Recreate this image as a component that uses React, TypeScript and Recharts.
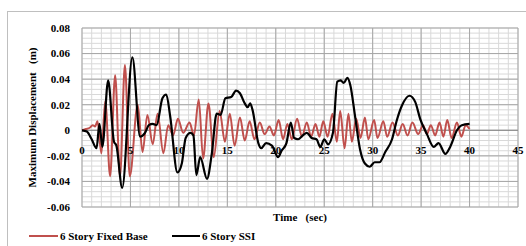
import React from 'react';
import { CartesianGrid, Legend, Line, LineChart, ReferenceLine, XAxis, YAxis } from 'recharts';

// time (sec)
const ssiTime = [
  0, 0.5, 1.0, 1.5, 1.8, 2.1, 2.7, 3.3, 3.55, 4.15, 5.2, 6.0, 6.5, 6.9, 7.3, 7.7, 8.3, 8.7, 9.1, 9.85,
  10.3, 10.7, 11.2, 11.5, 11.8, 12.2, 12.9, 13.4, 13.9, 14.3, 14.8, 15.4, 15.9, 16.3, 16.8, 17.1, 17.35, 17.6, 18.2, 18.5,
  19.0, 19.6, 20.25, 20.6, 21.1, 21.55, 21.9, 22.3, 22.8, 23.2, 23.7, 24.2, 24.6, 25.0, 25.4, 25.9, 26.35, 26.7, 27.0, 27.4,
  27.7, 28.2, 28.7, 29.2, 29.7, 30.2, 30.7, 31.3, 32.0, 32.5, 33.0, 33.8, 34.4, 34.9, 35.6, 36.3, 36.8, 37.5, 38.0, 38.7,
  39.2, 40.0,
];
// displacement (m)
const ssiDisp = [
  0, -0.001, -0.007, -0.014, 0.005, -0.013, 0.039, -0.009, -0.012, -0.045, 0.057, -0.005, -0.002, 0.004, 0.005, 0.004, 0.025, 0.028, 0.011, -0.033,
  -0.026, -0.006, -0.002, -0.004, -0.035, -0.021, -0.038, -0.018, 0.013, 0.012, 0.025, 0.026, 0.031, 0.029, 0.021, 0.018, 0.021, 0.016, -0.01, -0.014,
  -0.01, -0.012, -0.021, -0.016, -0.01, 0.006, -0.006, -0.007, -0.004, -0.002, -0.006, -0.007, -0.013, -0.007, -0.011, -0.002, 0.038, 0.039, 0.037, 0.041,
  0.035, 0.01, -0.015, -0.026, -0.0285, -0.025, -0.025, -0.017, -0.007, 0.008, 0.019, 0.027, 0.022, 0.009, -0.003, -0.013, -0.01, -0.0185, -0.013, 0,
  0.004, 0.005,
];

const fixedTime = [
  0, 0.4, 0.8, 1.1, 1.35, 1.6, 2.0, 2.4, 2.9, 3.42, 3.92, 4.43, 4.93, 5.75, 6.25, 6.75, 7.3, 7.8, 8.4, 8.9,
  9.4, 9.9, 10.45, 11.1, 11.55, 12.05, 12.5, 13.05, 13.6, 14.2, 14.75, 15.25, 15.75, 16.3, 16.8, 17.3, 17.8, 18.35, 18.85, 19.35,
  19.8, 20.3, 20.75, 21.2, 21.65, 22.2, 22.7, 23.2, 23.65, 24.1, 24.5, 24.9, 25.35, 25.85, 26.3, 26.65, 27.1, 27.5, 27.85, 28.3,
  28.75, 29.2, 29.55, 30.15, 30.5, 31.1, 31.5, 32.05, 32.6, 33.1, 33.6, 34.1, 34.7, 35.2, 35.6, 36.0, 36.45, 36.9, 37.3, 37.7,
  38.15, 38.7, 39.15, 39.6, 40.0,
];
const fixedDisp = [
  0, 0.001, 0.002, 0.004, 0.003, 0.007, -0.018, 0.023, -0.036, 0.043, -0.036, 0.051, -0.036, 0.02, -0.017, 0.012, -0.011, 0.013, -0.018, 0.004,
  -0.004, 0.009, -0.002, 0.006, -0.004, 0.024, -0.022, 0.021, -0.021, 0.015, -0.009, 0.013, -0.012, 0.01, -0.008, 0.007, -0.007, 0.006, -0.003, 0.003,
  -0.004, 0.008, -0.007, 0.005, -0.007, 0.009, -0.005, 0.006, -0.005, 0.005, -0.005, 0.007, -0.005, 0.013, -0.009, 0.015, -0.014, 0.013, -0.009, 0.009,
  -0.006, 0.01, -0.007, 0.008, -0.006, 0.007, -0.005, 0.006, -0.004, 0.005, -0.004, 0.006, -0.003, 0.004, -0.003, 0.004, -0.004, 0.006, -0.005, 0.008,
  -0.006, 0.006, -0.005, 0.004, 0.001,
];

const xMajor = [0, 5, 10, 15, 20, 25, 30, 35, 40, 45];
const yMajor = [-0.06, -0.04, -0.02, 0, 0.02, 0.04, 0.06, 0.08];
const xMinor = Array.from({ length: 46 }, (_, i) => i);
const yMinor = Array.from({ length: 36 }, (_, i) => Math.round((-0.06 + i * 0.004) * 1000) / 1000);

const ssiData = ssiTime.map((t, i) => ({ t, v: ssiDisp[i] }));
const fixedData = fixedTime.map((t, i) => ({ t, v: fixedDisp[i] }));

const FONT = "'Liberation Serif', 'Times New Roman', serif";
const RED = '#c0504d';

const XTick = ({ x, y, payload }: any) => (
  <text x={x} y={y - 53} textAnchor="middle" fontFamily={FONT} fontWeight="bold" fontSize={11} fill="#000">
    {payload.value}
  </text>
);

const LegendContent = () => (
  <svg width={270} height={16} style={{ display: 'block' }}>
    <line x1={29} x2={58} y1={8} y2={8} stroke={RED} strokeWidth={2} />
    <text x={60} y={12} fontFamily={FONT} fontWeight="bold" fontSize={11} fill="#000">6 Story Fixed Base</text>
    <line x1={172} x2={200} y1={8} y2={8} stroke="#000" strokeWidth={2} />
    <text x={202} y={12} fontFamily={FONT} fontWeight="bold" fontSize={11} fill="#000">6 Story SSI</text>
  </svg>
);

export default function App() {
  return (
    <div style={{ position: 'absolute', left: 0, top: 0, width: 526, height: 246, overflow: 'hidden', background: '#fff' }}>
      <div style={{ position: 'absolute', left: 7, top: 11, width: 540, height: 260, border: '1px solid #bfbfbf' }} />
      <div style={{ position: 'absolute', left: 0, top: 0 }}>
        <LineChart width={526} height={246} margin={{ top: 28, right: 8, bottom: 0, left: 0 }}>
          <CartesianGrid verticalValues={xMinor} horizontalValues={yMinor} stroke="#d9d9d9" strokeWidth={1} />
          <CartesianGrid verticalValues={xMajor} horizontalValues={yMajor} stroke="#a6a6a6" strokeWidth={1} />
          <XAxis
            dataKey="t"
            type="number"
            domain={[0, 45]}
            ticks={xMajor}
            interval={0}
            height={39}
            axisLine={false}
            tickLine={false}
            tickSize={0}
            tickMargin={0}
            tick={<XTick />}
            label={{ value: 'Time\u00A0\u00A0 (sec)', position: 'insideTop', offset: 6, fontFamily: FONT, fontWeight: 'bold', fontSize: 11, fill: '#000' }}
          />
          <YAxis
            type="number"
            domain={[-0.06, 0.08]}
            ticks={yMajor}
            interval={0}
            width={82}
            axisLine={false}
            tickLine={false}
            tickSize={6}
            tickMargin={6}
            tickFormatter={(v: number) => (v === 0 ? '0' : v.toFixed(2))}
            tick={{ fontFamily: FONT, fontWeight: 'bold', fontSize: 11, fill: '#000' }}
            label={{ value: 'Maximum Displacement\u00A0\u00A0 (m)', angle: -90, position: 'insideLeft', offset: 32, style: { textAnchor: 'middle' }, fontFamily: FONT, fontWeight: 'bold', fontSize: 11, fill: '#000' }}
          />
          <ReferenceLine y={0} stroke="#8c8c8c" strokeWidth={1} />
          <Line data={fixedData} dataKey="v" type="monotone" stroke={RED} strokeWidth={2} dot={false} isAnimationActive={false} />
          <Line data={ssiData} dataKey="v" type="monotone" stroke="#000" strokeWidth={2.2} dot={false} isAnimationActive={false} />
          <Legend
            layout="horizontal"
            verticalAlign="middle"
            align="center"
            wrapperStyle={{ position: 'absolute', left: 0, top: 228, width: 270, height: 16 }}
            content={<LegendContent />}
          />
        </LineChart>
      </div>
    </div>
  );
}
